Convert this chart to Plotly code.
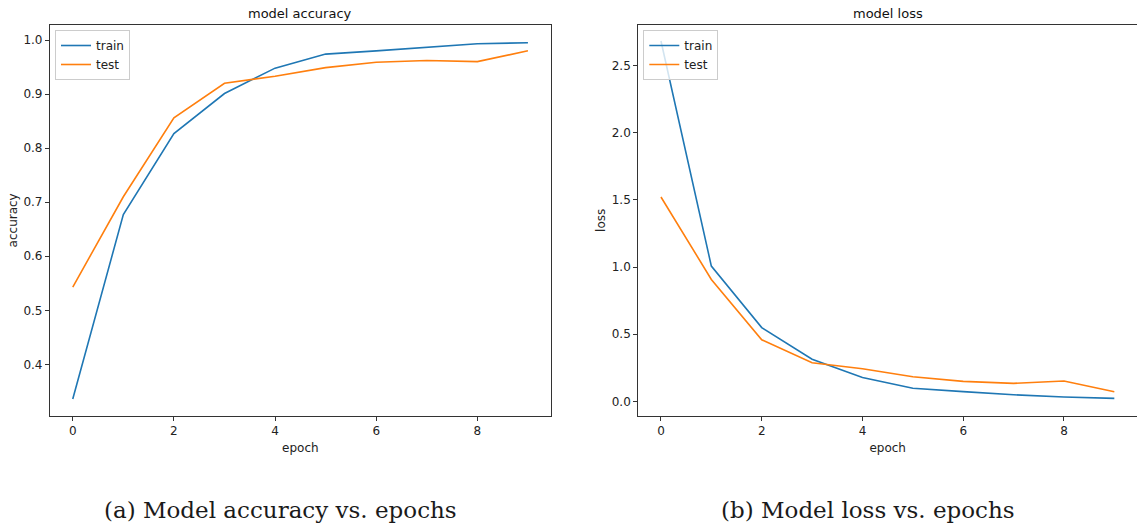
import plotly.graph_objects as go

epochs = list(range(10))
acc_train = [0.336, 0.677, 0.827, 0.901, 0.948, 0.974, 0.980, 0.987, 0.993, 0.995]
acc_test = [0.543, 0.710, 0.856, 0.920, 0.933, 0.949, 0.959, 0.962, 0.960, 0.980]
loss_train = [2.684, 1.007, 0.549, 0.314, 0.177, 0.097, 0.072, 0.049, 0.032, 0.022]
loss_test = [1.522, 0.908, 0.458, 0.288, 0.243, 0.183, 0.149, 0.134, 0.151, 0.072]

BLUE = "#1f77b4"
ORANGE = "#ff7f0e"
FONT = "DejaVu Sans"

fig = go.Figure()
fig.add_trace(go.Scatter(x=epochs, y=acc_train, mode="lines", name="train",
                         line=dict(color=BLUE, width=1.6), xaxis="x", yaxis="y", legend="legend"))
fig.add_trace(go.Scatter(x=epochs, y=acc_test, mode="lines", name="test",
                         line=dict(color=ORANGE, width=1.6), xaxis="x", yaxis="y", legend="legend"))
fig.add_trace(go.Scatter(x=epochs, y=loss_train, mode="lines", name="train",
                         line=dict(color=BLUE, width=1.6), xaxis="x2", yaxis="y2", legend="legend2"))
fig.add_trace(go.Scatter(x=epochs, y=loss_test, mode="lines", name="test",
                         line=dict(color=ORANGE, width=1.6), xaxis="x2", yaxis="y2", legend="legend2"))

W, H = 1137, 524
ydom = [(524 - 415.7) / H, (524 - 25) / H]
dom1 = [50 / W, 550.7 / W]
dom2 = [638.3 / W, 1.0]

axis_common = dict(showline=True, mirror=True, linecolor="#333333", linewidth=1.2,
                   ticks="outside", ticklen=4, tickcolor="#333333", showgrid=False,
                   zeroline=False, tickfont=dict(family=FONT, size=12, color="#222"),
                   title_font=dict(family=FONT, size=12, color="#222"))

legend_common = dict(bgcolor="rgba(255,255,255,0.8)", bordercolor="#cccccc", borderwidth=1,
                     font=dict(family=FONT, size=12, color="#222"), xanchor="left", yanchor="top",
                     itemwidth=30, tracegroupgap=0)

fig.update_layout(
    width=W, height=H,
    margin=dict(l=0, r=0, t=0, b=0),
    paper_bgcolor="white", plot_bgcolor="white",
    showlegend=True,
    xaxis=dict(domain=dom1, anchor="y", range=[-0.45, 9.45], tickvals=[0, 2, 4, 6, 8],
               title=dict(text="epoch", standoff=6), **axis_common),
    yaxis=dict(domain=ydom, anchor="x", range=[0.305, 1.0278],
               tickvals=[0.4, 0.5, 0.6, 0.7, 0.8, 0.9, 1.0], tickformat=".1f",
               title=dict(text="accuracy", standoff=3), **axis_common),
    xaxis2=dict(domain=dom2, anchor="y2", range=[-0.45, 9.45], tickvals=[0, 2, 4, 6, 8],
                title=dict(text="epoch", standoff=6), **axis_common),
    yaxis2=dict(domain=ydom, anchor="x2", range=[-0.107, 2.803],
                tickvals=[0.0, 0.5, 1.0, 1.5, 2.0, 2.5], tickformat=".1f",
                title=dict(text="loss", standoff=3), **axis_common),
    legend=dict(x=dom1[0] + 5 / W, y=ydom[1] - 5 / H, **legend_common),
    legend2=dict(x=dom2[0] + 5 / W, y=ydom[1] - 5 / H, **legend_common),
)

annos = [
    dict(text="model accuracy", x=(dom1[0] + dom1[1]) / 2, y=1 - 14 / H),
    dict(text="model loss", x=(dom2[0] + dom2[1]) / 2, y=1 - 14 / H),
]
for a in annos:
    fig.add_annotation(xref="paper", yref="paper", x=a["x"], y=a["y"], text=a["text"],
                       showarrow=False, xanchor="center", yanchor="middle",
                       font=dict(family=FONT, size=13, color="#111"))

captions = [
    dict(text="(a) Model accuracy vs. epochs", x=280 / W),
    dict(text="(b) Model loss vs. epochs", x=868 / W),
]
for c in captions:
    fig.add_annotation(xref="paper", yref="paper", x=c["x"], y=1 - 510 / H, text=c["text"],
                       showarrow=False, xanchor="center", yanchor="middle",
                       font=dict(family="DejaVu Serif", size=23, color="#1a1a1a"))

fig.write_html("out.html")
